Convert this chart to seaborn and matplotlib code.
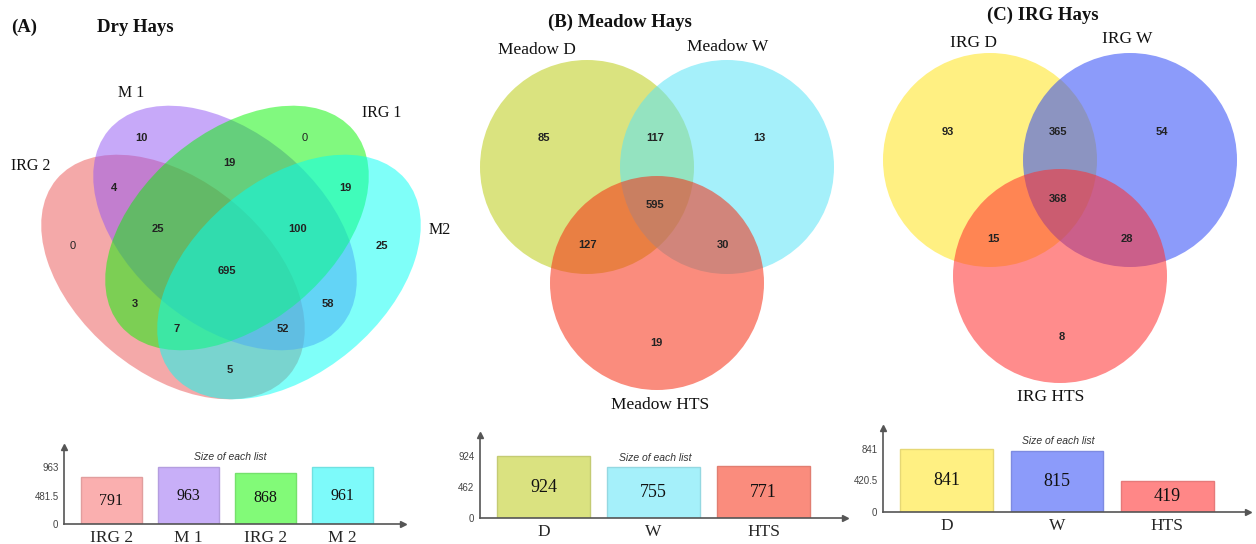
import numpy as np
import pandas as pd
import matplotlib
matplotlib.use("Agg")
import matplotlib.pyplot as plt
import matplotlib.colors as mcolors
from matplotlib.patches import Ellipse, Circle
import seaborn as sns

# ---------------- data ----------------
# (A) Dry hays, 4 lists
dry_sets = ["IRG 2", "M 1", "IRG 1", "M 2"]
dry_venn_labels = ["IRG 2", "M 1", "IRG 1", "M2"]
dry_ticks = ["IRG 2", "M 1", "IRG 2", "M 2"]
dry_sizes = [791, 963, 868, 961]
# region counts (top to bottom, left to right)
dry_regions = [10, 0, 4, 19, 19, 25, 100, 0, 25, 695, 3, 58, 7, 52, 5]

# (B) Meadow hays, 3 lists
meadow_sets = ["Meadow D", "Meadow W", "Meadow HTS"]
meadow_ticks = ["D", "W", "HTS"]
meadow_sizes = [924, 755, 771]
# D only, D&W, W only, all, D&HTS, W&HTS, HTS only
meadow_regions = [85, 117, 13, 595, 127, 30, 19]

# (C) IRG hays, 3 lists
irg_sets = ["IRG D", "IRG W", "IRG HTS"]
irg_ticks = ["D", "W", "HTS"]
irg_sizes = [841, 815, 419]
irg_regions = [93, 365, 54, 368, 15, 28, 8]

# ---------------- style ----------------
dry_fill = ["#eb5555", "#9155f5", "#05f500", "#00fff5"]
dry_bar = ["#faafaf", "#c8aff8", "#82fa78", "#7dfafa"]
meadow_fill = ["#bccd17", "#5be4f6", "#f62e13"]
meadow_bar = ["#dae280", "#a5f0fa", "#fa8c7d"]
irg_fill = ["#ffe41c", "#2e49f6", "#ff2e2e"]
irg_bar = ["#fff082", "#8c9bfa", "#ff8787"]

W, H = 1256, 544
sns.set_style("white")
plt.rcParams["font.family"] = ["Liberation Serif", "DejaVu Serif"]

fig = plt.figure(figsize=(W / 100, H / 100), dpi=100)

# overlay in pixel units for the venn diagrams and free text
ov = fig.add_axes([0, 0, 1, 1])
ov.set_xlim(0, W)
ov.set_ylim(H, 0)
ov.axis("off")


def num(x, y, v, bold=True):
    ov.text(x, y, str(v), ha="center", va="center", fontsize=8,
            family="Liberation Sans", fontweight="bold" if bold else "normal",
            color="#222222")


def label(x, y, s, size=12, bold=False):
    ov.text(x, y, s, ha="center", va="center", fontsize=size,
            fontweight="bold" if bold else "normal", color="#111111")


# ---- (A) four ellipses ----
ell_centers = [(173, 277), (225, 228), (237, 228), (289, 277)]
ell_angles = [40, 40, -40, -40]
for (cx, cy), ang, col in zip(ell_centers, ell_angles, dry_fill):
    ov.add_patch(Ellipse((cx, cy), 304, 192, angle=ang, facecolor=col,
                         edgecolor="none", alpha=0.5))

dry_pos = [(141, 138), (305, 138), (114, 188), (229, 163), (345, 188),
           (158, 229), (298, 229), (73, 246), (382, 246), (227, 271),
           (135, 304), (328, 304), (177, 329), (283, 329), (230, 370)]
for (x, y), v in zip(dry_pos, dry_regions):
    num(x, y, v, bold=(v != 0))

dry_label_pos = [(31, 166), (131, 93), (382, 113), (440, 230)]
for (x, y), s in zip(dry_label_pos, dry_venn_labels):
    label(x, y, s, size=11.5)
label(24, 27, "(A)", size=13.5, bold=True)
label(135, 27, "Dry Hays", size=13.5, bold=True)


# ---- (B) and (C) three circles ----
def three_venn(centers, fills, regions, region_pos, names, name_pos, title, title_pos):
    for (cx, cy), col in zip(centers, fills):
        ov.add_patch(Circle((cx, cy), 107, facecolor=col, edgecolor="none", alpha=0.55))
    for (x, y), v in zip(region_pos, regions):
        num(x, y, v)
    for (x, y), s in zip(name_pos, names):
        label(x, y, s, size=12.5)
    label(title_pos[0], title_pos[1], title, size=13.5, bold=True)


three_venn([(587, 167), (727, 167), (657, 283)], meadow_fill, meadow_regions,
           [(544, 138), (655, 138), (759, 138), (655, 205), (588, 245), (723, 245), (656, 343)],
           meadow_sets, [(537, 50), (728, 47), (660, 405)],
           "(B) Meadow Hays", (620, 22))

three_venn([(990, 160), (1130, 160), (1060, 276)], irg_fill, irg_regions,
           [(948, 132), (1058, 132), (1162, 132), (1058, 199), (993, 239), (1127, 239), (1062, 337)],
           irg_sets, [(973, 43), (1127, 39), (1051, 397)],
           "(C) IRG Hays", (1043, 15))


# ---------------- size bar charts ----------------
def size_bars(left, right, bottom, top, names, sizes, ticks, colors, width,
              xlim, val_size, title_xy):
    ax = fig.add_axes([left / W, 1 - bottom / H, (right - left) / W, (bottom - top) / H])
    df = pd.DataFrame({"set": names, "size": sizes})
    sns.barplot(data=df, x="set", y="size", hue="set",
                palette=dict(zip(names, colors)), saturation=1,
                width=width, legend=False, ax=ax)
    for p, c in zip(ax.patches, colors):
        p.set_edgecolor(np.array(mcolors.to_rgb(c)) * 0.9)
        p.set_linewidth(1)
    top_val = max(sizes)
    # axis scale so that the max tick sits below the arrow tip
    ymax = top_val * (bottom - top) / title_xy[2]
    ax.set_ylim(0, ymax)
    ax.set_xlim(*xlim)
    ax.set_yticks([0, top_val / 2, top_val])
    ax.set_yticklabels([f"{t:g}" for t in [0, top_val / 2, top_val]],
                       fontsize=7, family="Liberation Sans", color="#444444")
    ax.set_xticks(range(len(names)))
    ax.set_xticklabels(ticks, fontsize=12.5)
    ax.tick_params(axis="both", length=3, width=0.8, color="#555555", pad=1)
    ax.set_xlabel("")
    ax.set_ylabel("")
    for s in ["top", "right"]:
        ax.spines[s].set_visible(False)
    for s in ["left", "bottom"]:
        ax.spines[s].set_color("#555555")
        ax.spines[s].set_linewidth(1.2)
    ax.plot(1, 0, ">", color="#555555", markersize=5, transform=ax.transAxes, clip_on=False)
    ax.plot(0, 1, "^", color="#555555", markersize=5, transform=ax.transAxes, clip_on=False)
    ax.patch.set_alpha(0)
    for i, v in enumerate(sizes):
        ax.text(i, v / 2, str(v), ha="center", va="center", fontsize=val_size, color="#111111")
    ov.text(title_xy[0], title_xy[1], "Size of each list", ha="center", va="center",
            fontsize=7.5, style="italic", family="Liberation Sans", color="#333333")
    return ax


size_bars(64, 403, 524, 447, dry_sets, dry_sizes, dry_ticks, dry_bar, 0.79,
          (-0.617, 3.79), 11.5, (230, 457, 57))
size_bars(480, 845, 518, 435, meadow_sets, meadow_sizes, meadow_ticks, meadow_bar, 0.845,
          (-0.577, 2.74), 13, (655, 458, 62))
size_bars(883, 1248, 512, 428, irg_sets, irg_sizes, irg_ticks, irg_bar, 0.84,
          (-0.575, 2.73), 13, (1058, 441, 63))

fig.savefig("out.png", dpi=100)
